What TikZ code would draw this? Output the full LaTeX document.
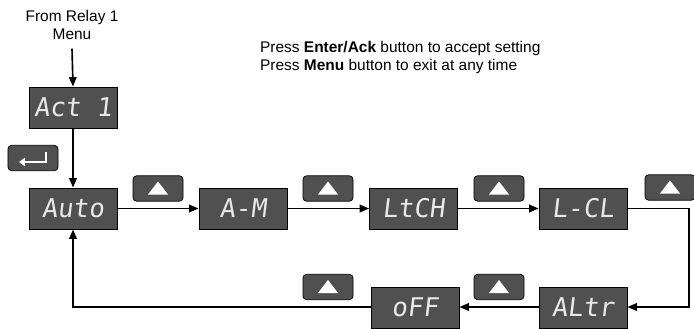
\documentclass[tikz,border=0pt]{standalone}
\usepackage{fontspec}
\setmainfont{Liberation Sans}
\newfontfamily\segfont[FakeSlant=0.12]{DejaVu Sans Mono}
\usetikzlibrary{arrows.meta}

\definecolor{panelgrey}{RGB}{80,80,80}
\definecolor{seglight}{RGB}{232,232,232}

\tikzset{
	display/.style={draw=black, fill=panelgrey, text=seglight, line width=0.8pt,
		minimum width=2.64cm, minimum height=1.23cm, inner sep=0pt,
		font=\segfont\fontsize{22}{22}\selectfont},
	keybox/.style={draw=black, fill=panelgrey, line width=0.6pt, rounded corners=3pt,
		minimum width=1.5cm, minimum height=0.76cm, inner sep=0pt},
	flow/.style={line width=1.4pt, -{Triangle[length=8pt,width=6.5pt]}},
	info/.style={font=\fontsize{13.2}{15.5}\selectfont}
}

% white arrow-up triangle on a key
\newcommand{\upkey}[2]{%
	\node[keybox] (#1) at (#2) {};
	\fill[white] ([shift={(-10,6)}]#1.center) -- ([shift={(10,6)}]#1.center)
		-- ([shift={(0,-7)}]#1.center) -- cycle;
}

\begin{document}
\begin{tikzpicture}[x=0.03cm, y=-0.03cm]
	
	\useasboundingbox (0,0) rectangle (694,328);
	
	% Texts
	\node[info, align=center] (src) at (72,25) {From Relay 1\\Menu};
	\node[info, align=left, anchor=west] (note) at (256,57.5)
		{Press \textbf{Enter/Ack} button to accept setting\\
		 Press \textbf{Menu} button to exit at any time};
	
	% Displays
	\node[display] (act) at (73,107.5) {Act 1};
	\node[display] (auto) at (73,208.5) {Auto};
	\node[display] (am) at (243,208.5) {A-M};
	\node[display] (ltch) at (413.5,208.5) {LtCH};
	\node[display] (lcl) at (583,208.5) {L-CL};
	\node[display] (altr) at (583,307.5) {ALtr};
	\node[display] (off) at (415,307.5) {oFF};
	
	% Enter key
	\node[keybox] (enter) at (33,158) {};
	\draw[white, line width=2pt, -{Triangle[length=5pt,width=7pt]}]
		([shift={(13,-6)}]enter.center) -- ([shift={(13,4)}]enter.center)
		-- ([shift={(-14,4)}]enter.center);
	
	% Up keys
	\upkey{upa}{158,188.5}
	\upkey{upb}{328,188.5}
	\upkey{upc}{499,188.5}
	\upkey{upd}{670,187.5}
	\upkey{upe}{328,287}
	\upkey{upf}{499,287}
	
	% Corners of the return loop
	\coordinate (rc) at (689,307);
	\coordinate (lc) at (73,307);
	
	% Connectors
	\draw[flow] ([yshift=-4pt]src.south) -- (act.north);
	\draw[flow] (act.south) -- (auto.north);
	\draw[flow] (auto.east) -- (am.west);
	\draw[flow] (am.east) -- (ltch.west);
	\draw[flow] (ltch.east) -- (lcl.west);
	\draw[flow] (lcl.east) -| (rc) -- (rc -| altr.east);
	\draw[flow] (altr.west |- rc) -- (rc -| off.east);
	\draw[flow] (off.west |- rc) -- (lc) -- (auto.south);
	
\end{tikzpicture}
\end{document}
